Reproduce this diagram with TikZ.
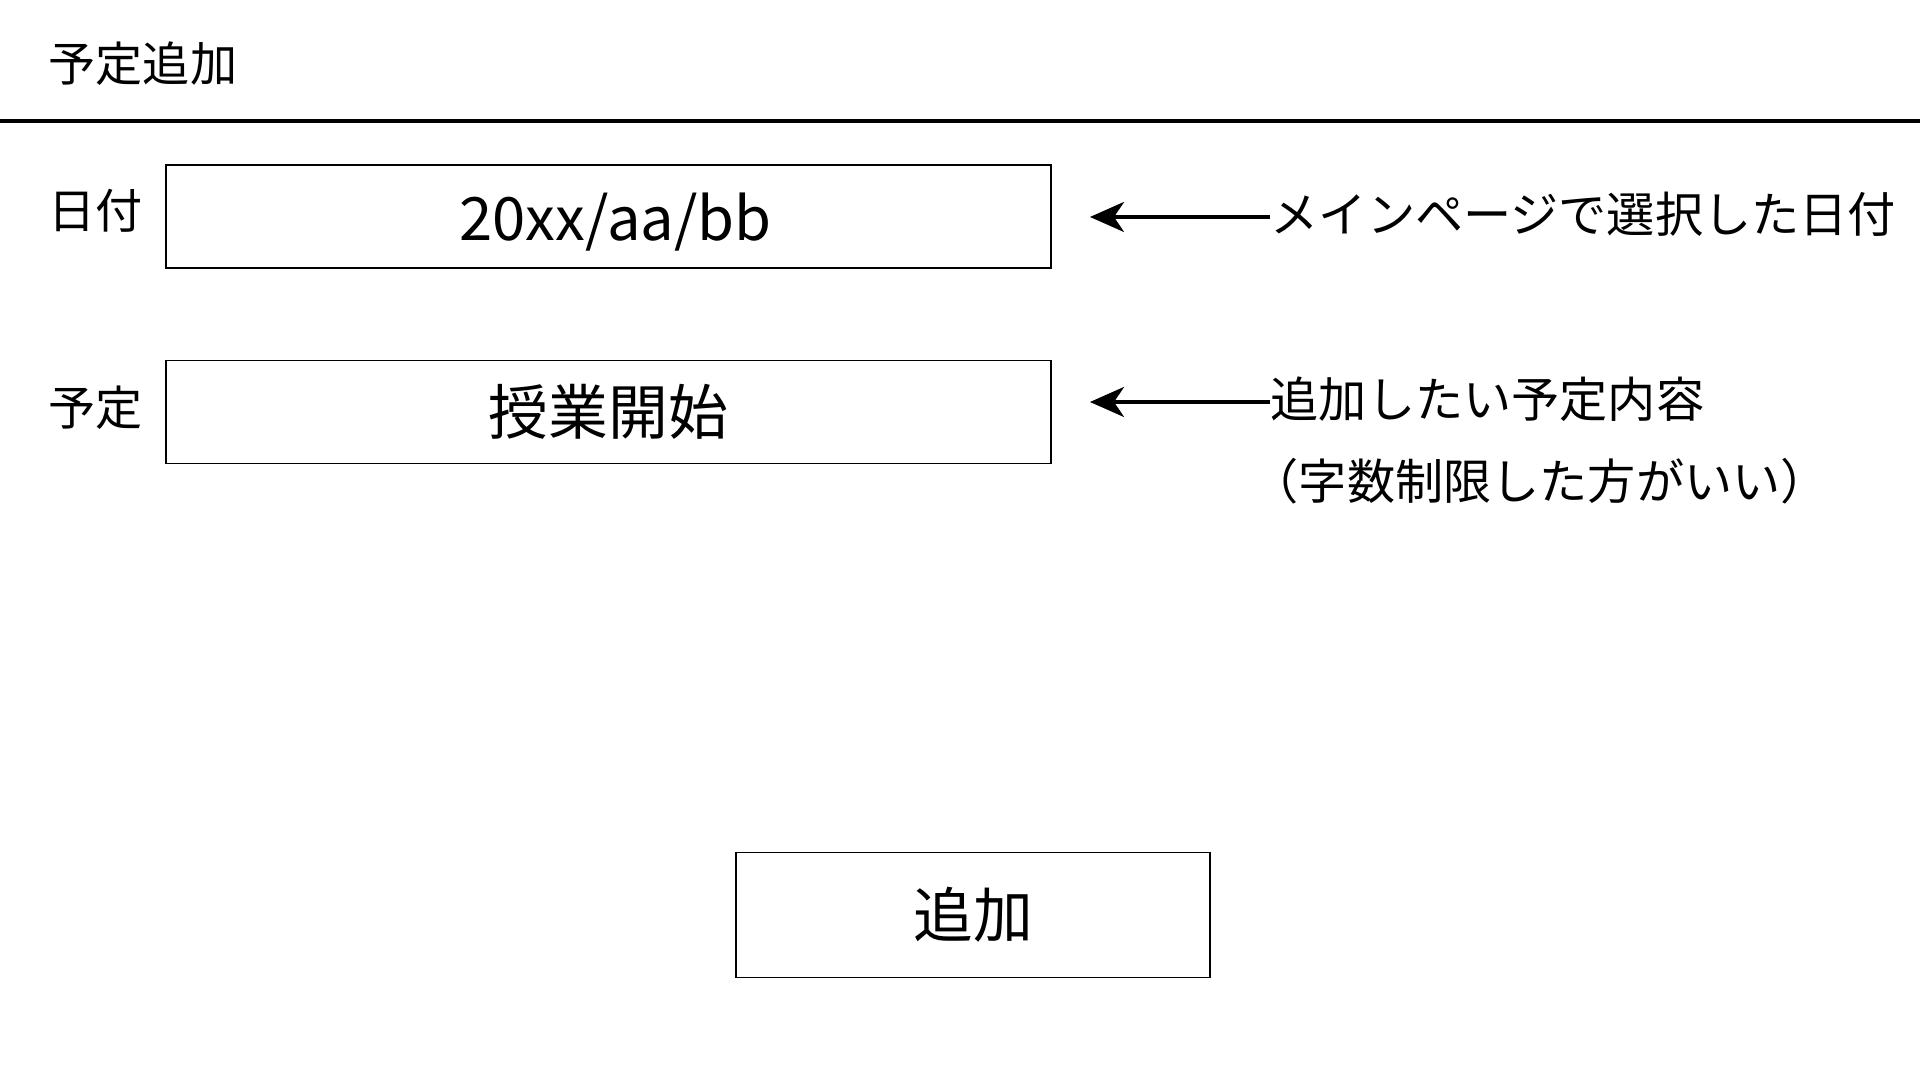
\documentclass[tikz,border=0pt]{standalone}
\usepackage{fontspec}
\setmainfont{Noto Sans CJK JP}
\usetikzlibrary{arrows.meta,positioning}

\begin{document}
\begin{tikzpicture}[x=0.01cm,y=-0.01cm]
        % Define styles
        \tikzset{
            label/.style={inner sep=0pt, font=\fontsize{13.4}{16}\selectfont},
            field/.style={rectangle, draw, line width=0.45pt, minimum width=8.84cm, minimum height=1.03cm, font=\fontsize{17}{20}\selectfont},
            button/.style={rectangle, draw, line width=0.45pt, minimum width=4.74cm, minimum height=1.25cm, font=\fontsize{17}{20}\selectfont},
            note/.style={inner sep=0pt, anchor=west, font=\fontsize{13.7}{16}\selectfont},
            arrow/.style={-{Stealth[length=0.34cm,width=0.3cm,inset=0.1cm]}, line width=1pt}
        }
        \useasboundingbox (0,0) rectangle (1920,1080);

        % Header
        \node[label, anchor=west] (title) at (48,64) {予定追加};
        \coordinate (rule_left) at (0,121);
        \coordinate (rule_right) at (1920,121);
        \draw[line width=1.4pt] (rule_left) -- (rule_right);

        % Fields
        \node[field, text depth=-0.08cm] (date_field) at (608.5,216.5) {\hspace{0.14cm}20xx/aa/bb};
        \node[label, anchor=east] (date_label) at (143,211) {日付};
        \node[field] (plan_field) at (608.5,412) {授業開始};
        \node[label, anchor=east] (plan_label) at (143,408) {予定};

        % Notes
        \node[note] (date_note) at (1270,214) {メインページで選択した日付};
        \node[note] (plan_note) at (1270,399) {追加したい予定内容};
        \node[note] (plan_note_2) at (1250,481) {（字数制限した方がいい）};
        \coordinate (date_tip) at (1090,217);
        \coordinate (plan_tip) at (1090,402);

        % Arrows
        \draw[arrow] (date_note.west |- date_tip) -- (date_tip);
        \draw[arrow] (plan_note.west |- plan_tip) -- (plan_tip);

        % Button
        \node[button] (add_button) at (973,915) {追加};
    \end{tikzpicture}
\end{document}
